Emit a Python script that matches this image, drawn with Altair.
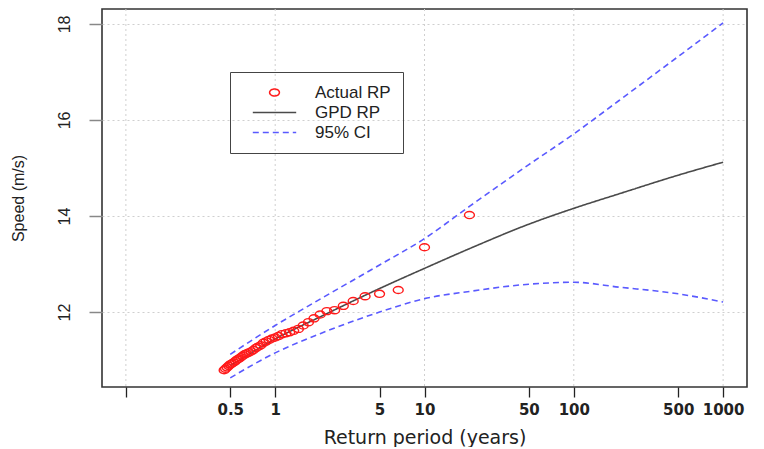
import altair as alt
import pandas as pd

# ---- data ----
actual_rp = [20, 10, 6.67, 5, 4, 3.33, 2.86, 2.5, 2.22, 2.0, 1.82, 1.67, 1.54, 1.43,
             1.33, 1.25, 1.18, 1.11, 1.05, 1.0, 0.952, 0.909, 0.870, 0.833, 0.8,
             0.769, 0.741, 0.714, 0.690, 0.667, 0.645, 0.625, 0.606, 0.588, 0.571,
             0.556, 0.541, 0.526, 0.513, 0.5, 0.488, 0.476, 0.465, 0.455]
actual_speed = [14.02, 13.35, 12.46, 12.38, 12.33, 12.23, 12.13, 12.04, 12.02, 11.95,
                11.87, 11.79, 11.72, 11.65, 11.61, 11.58, 11.56, 11.54, 11.50, 11.47,
                11.45, 11.42, 11.39, 11.36, 11.31, 11.28, 11.25, 11.21, 11.18, 11.16,
                11.14, 11.12, 11.09, 11.06, 11.03, 11.01, 10.98, 10.95, 10.93, 10.91,
                10.88, 10.85, 10.82, 10.79]

fit_rp = [0.5, 1, 2, 5, 10, 20, 50, 100, 200, 500, 1000]
gpd_speed = [10.88, 11.44, 11.90, 12.49, 12.91, 13.32, 13.83, 14.16, 14.46, 14.85, 15.12]
ci_upper = [11.12, 11.72, 12.27, 12.98, 13.53, 14.20, 15.07, 15.71, 16.40, 17.32, 18.02]
ci_lower = [10.63, 11.15, 11.55, 12.00, 12.28, 12.43, 12.58, 12.62, 12.52, 12.38, 12.21]

x_ticks = [0.1, 0.5, 1, 5, 10, 50, 100, 500, 1000]
x_grid = [0.1, 1, 10, 100, 1000]
y_ticks = [12, 14, 16, 18]

series_names = ["Actual RP", "GPD RP", "95% CI"]

# ---- tables ----
pts = pd.DataFrame({"rp": actual_rp, "speed": actual_speed, "series": "Actual RP"})
lines = pd.concat([
    pd.DataFrame({"rp": fit_rp, "speed": gpd_speed, "series": "GPD RP", "part": "fit"}),
    pd.DataFrame({"rp": fit_rp, "speed": ci_upper, "series": "95% CI", "part": "upper"}),
    pd.DataFrame({"rp": fit_rp, "speed": ci_lower, "series": "95% CI", "part": "lower"}),
])
grid = pd.DataFrame({"rp": x_grid})

xscale = alt.Scale(type="log", domain=[10 ** -1.16, 10 ** 3.16], nice=False)
yscale = alt.Scale(domain=[10.44, 18.31], nice=False, zero=False)

color_scale = alt.Scale(domain=series_names, range=["#ff1a1a", "#4a4a4a", "#5a5aff"])
dash_scale = alt.Scale(domain=series_names, range=[[1, 0], [1, 0], [6, 4]])
ellipse = "M-0.7,0A0.7,0.5,0,1,1,0.7,0A0.7,0.5,0,1,1,-0.7,0Z"
stroke_sym = "M-3.1,0L3.1,0"
shape_scale = alt.Scale(domain=series_names, range=[ellipse, stroke_sym, stroke_sym])

x_axis = alt.Axis(
    values=x_ticks, grid=False, domain=False,
    labelExpr="datum.value < 0.2 ? '' : '' + datum.value",
    labelFont="DejaVu Sans", labelFontSize=15, labelFontWeight="bold", labelColor="#222",
    tickSize=10, tickColor="#222", tickWidth=1.3, labelPadding=5, labelBaseline="top",
    title="Return period (years)", titleFont="DejaVu Sans", titleFontSize=19,
    titleFontWeight="normal", titleColor="#222", titleY=56, titleBaseline="alphabetic",
)
y_axis = alt.Axis(
    values=y_ticks, grid=True, gridDash=[2, 3], gridColor="#cfcfcf", domain=False,
    labelAngle=270, labelAlign="center", labelBaseline="bottom",
    labelFont="Liberation Sans", labelFontSize=16, labelColor="#222",
    tickSize=13, tickColor="#888", tickWidth=1.5, labelPadding=17,
    title="Speed (m/s)", titleFont="Liberation Sans", titleFontSize=16,
    titleFontWeight="normal", titleColor="#222", titleAngle=270,
    titleX=-84, titleY=189, titleAlign="center", titleBaseline="middle",
)

grid_layer = alt.Chart(grid).mark_rule(color="#cfcfcf", strokeDash=[2, 3], strokeWidth=1).encode(
    x=alt.X("rp:Q", scale=xscale, axis=x_axis),
)

line_layer = alt.Chart(lines).mark_line(strokeWidth=1.6, interpolate="monotone").encode(
    x=alt.X("rp:Q", scale=xscale),
    y=alt.Y("speed:Q", scale=yscale, axis=y_axis),
    color=alt.Color("series:N", scale=color_scale, title=None),
    strokeDash=alt.StrokeDash("series:N", scale=dash_scale, title=None),
    detail="part:N",
)

point_layer = alt.Chart(pts).mark_point(filled=False, strokeWidth=1.4, size=200, opacity=1).encode(
    x=alt.X("rp:Q", scale=xscale),
    y=alt.Y("speed:Q", scale=yscale),
    color=alt.Color("series:N", scale=color_scale, title=None),
    shape=alt.Shape("series:N", scale=shape_scale, title=None),
)

chart = alt.layer(grid_layer, line_layer, point_layer).properties(
    width=645, height=378,
    autosize=alt.AutoSizeParams(type="none"),
    padding={"left": 94, "top": 1, "right": 5, "bottom": 60},
).configure_view(
    stroke="#333", strokeWidth=1.6
).configure_legend(
    orient="none", legendX=128, legendY=63, strokeColor="#444", padding=12,
    labelFont="Liberation Sans", labelFontSize=17, labelColor="#222",
    symbolSize=196, symbolStrokeWidth=1.5, rowPadding=2,
    labelOffset=32, symbolOffset=24, cornerRadius=0,
)

chart.save("out.html", embed_options={"renderer": "svg", "actions": False})
